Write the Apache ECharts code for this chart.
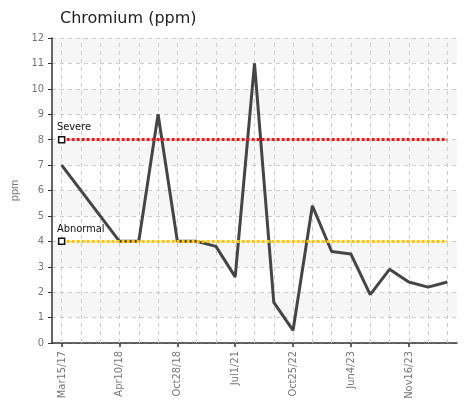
<html>
<head>
<meta charset="utf-8">
<script src="https://cdn.jsdelivr.net/npm/echarts@6/dist/echarts.min.js"></script>
<style>body{margin:0;background:#fff}#main{width:467px;height:407px}</style>
</head>
<body>
<div id="main"></div>
<script>
var dates = ['Mar15/17','','','Apr10/18','','','Oct28/18','','','Jul1/21','','','Oct25/22','','','Jun4/23','','','Nov16/23','',''];
var values = [7,null,null,4,4,9,4,4,3.8,2.6,11,1.6,0.5,5.4,3.6,3.5,1.9,2.9,2.4,2.2,2.4];
var limits = [{name: 'Severe', value: 8, color: '#ff1010'}, {name: 'Abnormal', value: 4, color: '#ffc800'}];

var last = dates.length - 1;
var vlines = dates.map(function (d, i) { return {xAxis: i}; });
var series = [{
  type: 'line', data: values, connectNulls: true, showSymbol: false, z: 3,
  lineStyle: {color: '#454545', width: 3},
  markLine: {silent: true, symbol: 'none', label: {show: false},
    lineStyle: {color: '#ccc', type: [4, 4], width: 1}, data: vlines, z: 1}
}];
limits.forEach(function (l) {
  series.push({
    type: 'line', data: [], z: 2,
    markLine: {
      silent: true, symbol: 'none',
      lineStyle: {color: l.color, type: [3, 2], width: 3},
      label: {show: false},
      data: [[{coord: [0, l.value]}, {coord: [last, l.value]}]]
    },
    markPoint: {
      silent: true, symbol: 'rect', symbolSize: 6,
      itemStyle: {color: '#fff', borderColor: '#111', borderWidth: 1.5},
      label: {show: true, position: [-1, -14], formatter: l.name, color: '#111', fontSize: 11, fontFamily: 'DejaVu Sans Condensed'},
      data: [{coord: [0, l.value]}]
    }
  });
});

var chart = echarts.init(document.getElementById('main'));
chart.setOption({
  animation: false,
  title: {text: 'Chromium (ppm)', left: 55, top: 6, textStyle: {fontFamily: 'DejaVu Sans', fontSize: 16, fontWeight: 'normal', color: '#222'}},
  grid: {left: 52, right: 10, top: 38, bottom: 64},
  xAxis: {
    type: 'category', data: dates, boundaryGap: true,
    axisLine: {lineStyle: {color: '#333', width: 1.5}},
    axisTick: {show: true, interval: 2, alignWithLabel: true, lineStyle: {color: '#333', width: 1.5}, length: 4},
    axisLabel: {interval: 2, rotate: 90, color: '#777', fontSize: 11, fontFamily: 'DejaVu Sans Condensed'},
    splitLine: {show: false}
  },
  yAxis: {
    type: 'value', min: 0, max: 12, interval: 1, name: 'ppm', nameLocation: 'middle', nameGap: 30,
    nameTextStyle: {color: '#777', fontSize: 11},
    axisLine: {show: true, lineStyle: {color: '#333', width: 1.5}},
    axisTick: {show: true, length: 4, lineStyle: {color: '#333'}},
    axisLabel: {color: '#777', fontSize: 11, fontFamily: 'DejaVu Sans Condensed'},
    splitLine: {lineStyle: {color: '#ccc', type: [4, 4]}},
    splitArea: {show: true, areaStyle: {color: ['#fff', '#f6f6f6']}}
  },
  series: series
});
</script>
</body>
</html>
